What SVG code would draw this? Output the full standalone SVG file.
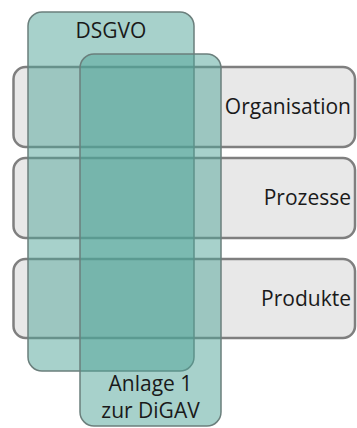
<svg xmlns="http://www.w3.org/2000/svg" width="357" height="428" viewBox="0 0 357 428">
<style>
.bar{fill:#e8e8e8;stroke:#7f7f7f;stroke-width:2.5}
.reg{fill:#50a398;fill-opacity:0.5;stroke:#6b7f7c;stroke-width:1.5}
.t{font-family:"Open Sans","Liberation Sans",sans-serif;font-size:21px;fill:#1a1a1a}
</style>
<rect width="357" height="428" fill="#ffffff"/>
<g id="organisation">
<rect class="bar" x="13.5" y="67" width="341.5" height="80" rx="12"/>
<text class="t" x="351" y="114" text-anchor="end">Organisation</text>
</g>
<g id="prozesse">
<rect class="bar" x="13.5" y="158" width="341.5" height="80" rx="12"/>
<text class="t" x="351" y="205" text-anchor="end">Prozesse</text>
</g>
<g id="produkte">
<rect class="bar" x="13.5" y="259" width="341.5" height="79" rx="12"/>
<text class="t" x="351" y="306" text-anchor="end">Produkte</text>
</g>
<g id="dsgvo">
<rect class="reg" x="28" y="12" width="166" height="359" rx="14"/>
<text class="t" x="111" y="38" text-anchor="middle">DSGVO</text>
</g>
<g id="digav">
<rect class="reg" x="80" y="54" width="141" height="372" rx="14"/>
<text class="t" x="150.5" y="391" text-anchor="middle">Anlage 1</text>
<text class="t" x="150.5" y="418" text-anchor="middle">zur DiGAV</text>
</g>
<g id="connectors"/>
</svg>
